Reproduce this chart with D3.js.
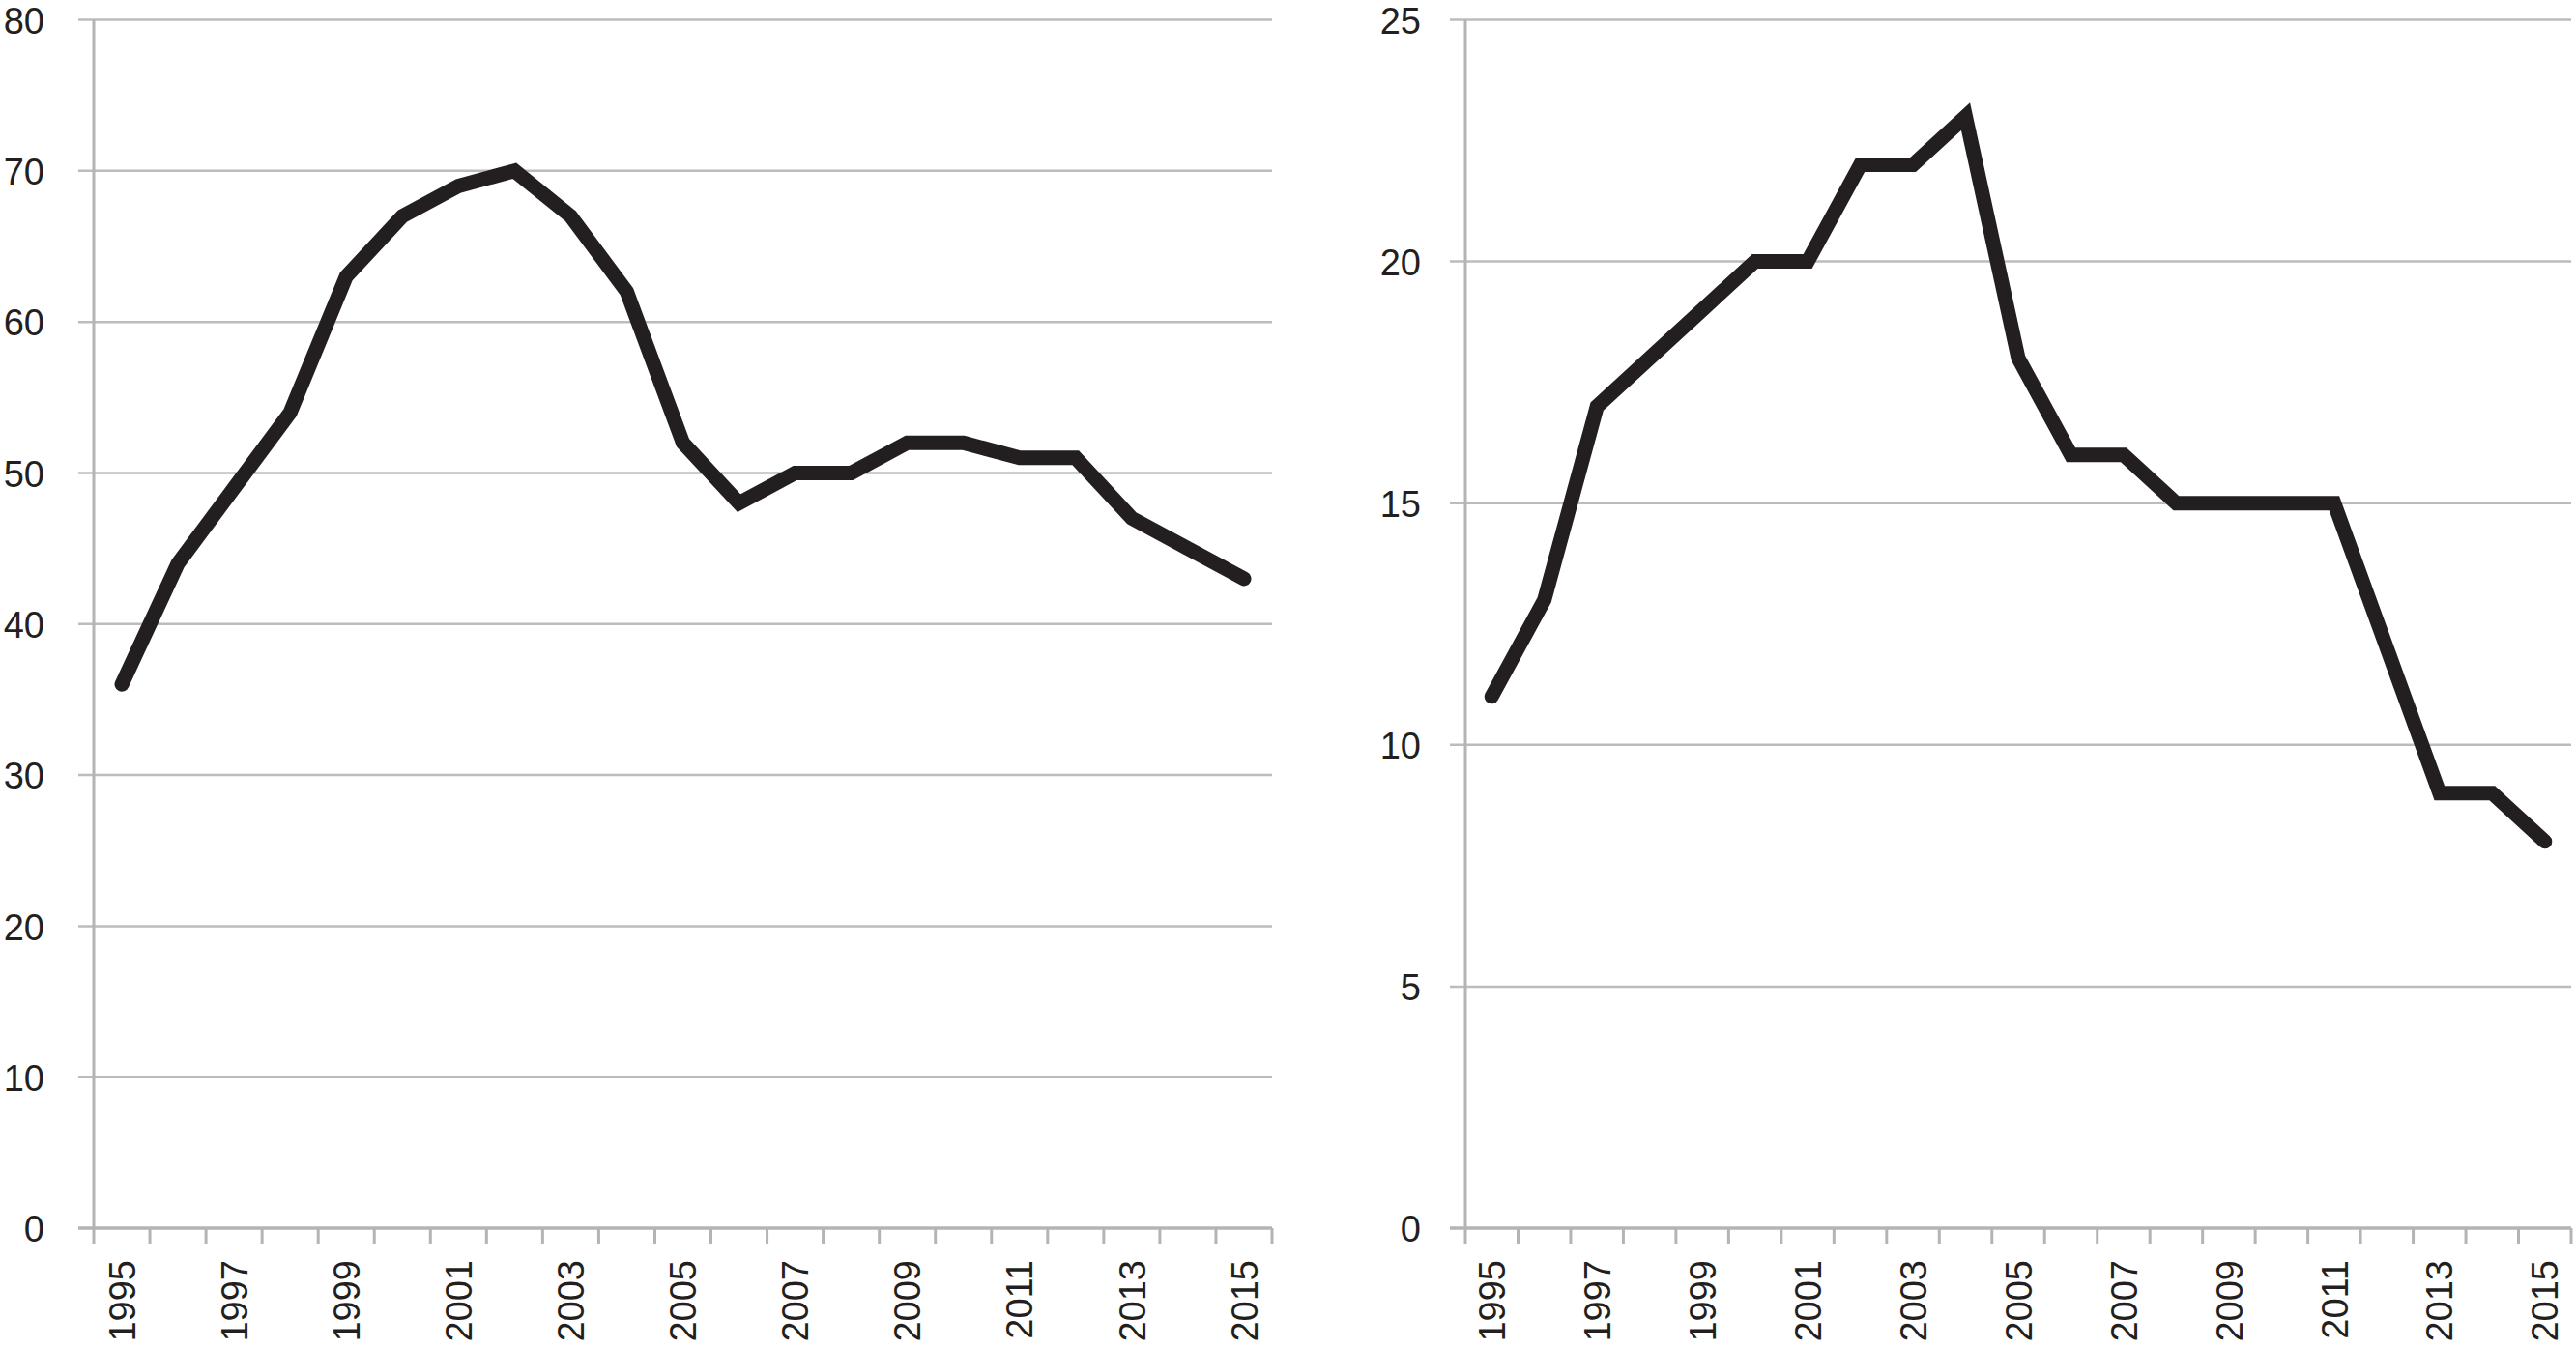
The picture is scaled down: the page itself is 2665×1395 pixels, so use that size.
<!DOCTYPE html>
<html>
<head>
<meta charset="utf-8">
<script src="https://cdn.jsdelivr.net/npm/d3@7"></script>
<style>
  html, body { margin: 0; padding: 0; background: #ffffff; }
  svg { display: block; }
  text { font-family: "Liberation Sans", Arial, Helvetica, sans-serif; fill: #231f20; }
</style>
</head>
<body>
<svg id="chart" width="2665" height="1395"></svg>
<script>
// ---- data ----
const years = d3.range(1995, 2016);
const yearLabels = [1995, 1997, 1999, 2001, 2003, 2005, 2007, 2009, 2011, 2013, 2015];

const leftValues  = [36, 44, 49, 54, 63, 67, 69, 70, 67, 62, 52, 48, 50, 50, 52, 52, 51, 51, 47, 45, 43];
const leftTicks   = [0, 10, 20, 30, 40, 50, 60, 70, 80];

const rightValues = [11, 13, 17, 18, 19, 20, 20, 22, 22, 23, 18, 16, 16, 15, 15, 15, 15, 12, 9, 9, 8];
const rightTicks  = [0, 5, 10, 15, 20, 25];

// ---- layout ----
const svg = d3.select("#chart");
const plotTop = 20.5, plotBottom = 1271;

const panels = [
  { x0: 97,   x1: 1316, values: leftValues,  ticks: leftTicks,  max: 80, labelRight: 46 },
  { x0: 1516, x1: 2660, values: rightValues, ticks: rightTicks, max: 25, labelRight: 1470 }
];

const gridColor = "#bcbcbc";
const axisColor = "#b4b4b4";
const fontSize = 38;

panels.forEach(p => {
  const g = svg.append("g");
  const x = d3.scaleBand().domain(years).range([p.x0, p.x1]).paddingInner(0).paddingOuter(0);
  const y = d3.scaleLinear().domain([0, p.max]).range([plotBottom, plotTop]);

  // gridlines (extend left of axis as outside tick marks)
  g.append("g").selectAll("line").data(p.ticks.filter(t => t !== 0)).join("line")
    .attr("x1", p.x0 - 16).attr("x2", p.x1)
    .attr("y1", d => y(d)).attr("y2", d => y(d))
    .attr("stroke", gridColor).attr("stroke-width", 2.5);

  // y axis labels
  const yAxis = d3.axisLeft(y).tickValues(p.ticks).tickSize(0).tickPadding(p.x0 - p.labelRight);
  const ya = g.append("g").attr("transform", `translate(${p.x0},0)`).call(yAxis);
  ya.select(".domain").remove();
  ya.selectAll("text").style("font-size", fontSize + "px").attr("fill", "#231f20").attr("dy", "0.36em");

  // y axis line
  g.append("line")
    .attr("x1", p.x0).attr("x2", p.x0)
    .attr("y1", plotTop).attr("y2", plotBottom)
    .attr("stroke", axisColor).attr("stroke-width", 3);

  // x axis baseline
  g.append("line")
    .attr("x1", p.x0 - 16).attr("x2", p.x1)
    .attr("y1", plotBottom).attr("y2", plotBottom)
    .attr("stroke", axisColor).attr("stroke-width", 3.5);

  // x tick marks at category boundaries
  const boundaries = years.map(yr => x(yr)).concat([x(years[years.length - 1]) + x.bandwidth()]);
  g.append("g").selectAll("line").data(boundaries).join("line")
    .attr("x1", d => d).attr("x2", d => d)
    .attr("y1", plotBottom).attr("y2", plotBottom + 16)
    .attr("stroke", axisColor).attr("stroke-width", 3);

  // x labels (rotated)
  const xAxis = d3.axisBottom(x).tickValues(yearLabels).tickSize(0).tickPadding(0);
  const xa = g.append("g").attr("transform", `translate(0,${plotBottom})`).call(xAxis);
  xa.select(".domain").remove();
  xa.selectAll("text")
    .style("font-size", fontSize + "px")
    .attr("fill", "#231f20")
    .attr("text-anchor", "end")
    .attr("x", 0).attr("y", 0)
    .attr("dy", "0.36em")
    .attr("transform", "translate(0,33) rotate(-90)");

  // data line
  const line = d3.line()
    .x((d, i) => x(years[i]) + x.bandwidth() / 2)
    .y(d => y(d));
  g.append("path")
    .datum(p.values)
    .attr("d", line)
    .attr("fill", "none")
    .attr("stroke", "#231f20")
    .attr("stroke-width", 15)
    .attr("stroke-linejoin", "miter")
    .attr("stroke-miterlimit", 3)
    .attr("stroke-linecap", "round");
});
</script>
</body>
</html>
